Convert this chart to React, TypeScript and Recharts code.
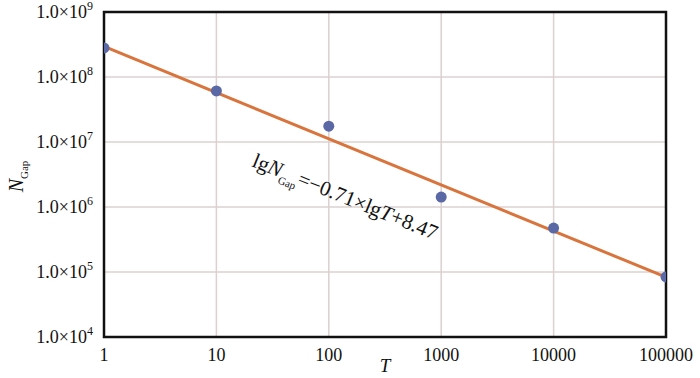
import { ScatterChart, Scatter, XAxis, YAxis, CartesianGrid, ReferenceArea } from 'recharts'

// measured points (T, N_Gap)
const tValues = [1, 10, 100, 1000, 10000, 100000]
const nGap = [2.8e8, 6.1e7, 1.75e7, 1.42e6, 4.75e5, 8.4e4]
// fitted line lgN = -0.71 lgT + 8.47, end points
const fitT = [1, 100000]
const fitN = [2.95e8, 8.32e4]

const xTicks = [1, 10, 100, 1000, 10000, 100000]
const yTicks = [1e4, 1e5, 1e6, 1e7, 1e8, 1e9]

const points = tValues.map((x, i) => ({ x, y: nGap[i] }))
const fit = fitT.map((x, i) => ({ x, y: fitN[i] }))

const serif = '"Liberation Serif", "DejaVu Serif", serif'

const YTick = ({ x, y, payload }: any) => {
  const e = Math.round(Math.log10(payload.value))
  return (
    <text x={x - 3} y={y + 6} textAnchor='end' fontFamily={serif} fontSize={18} fill='#111'>
      1.0×10<tspan dy={-8} fontSize={12}>{e}</tspan>
    </text>
  )
}

const XTick = ({ x, y, payload }: any) => (
  <text x={x} y={y + 16} textAnchor='middle' fontFamily={serif} fontSize={18} fill='#111'>
    {payload.value}
  </text>
)

const Dot = ({ cx, cy }: any) => <circle cx={cx} cy={cy} r={5.5} fill='#5a68a6' />

export default function App() {
  return (
    <div style={{ position: 'absolute', left: 0, top: 0, width: 700, height: 378, background: '#fff' }}>
      <ScatterChart width={700} height={378} margin={{ top: 12, right: 34, left: 0, bottom: 0 }}>
        <CartesianGrid stroke='#dcd0d0' strokeWidth={1.5} />
        <XAxis type='number' dataKey='x' scale='log' domain={[1, 100000]} ticks={xTicks}
          height={41} axisLine={false} tickLine={false} tick={<XTick />} interval={0}
          allowDataOverflow
          label={({ viewBox }: any) => (
            <text x={viewBox.x + viewBox.width / 2} y={372} textAnchor='middle'
              fontFamily={serif} fontStyle='italic' fontSize={19} fill='#111'>T</text>
          )} />
        <YAxis type='number' dataKey='y' scale='log' domain={[1e4, 1e9]} ticks={yTicks}
          width={104} axisLine={false} tickLine={false} tick={<YTick />} interval={0}
          allowDataOverflow
          label={({ viewBox }: any) => (
            <text x={0} y={0} transform={`translate(23 ${viewBox.y + viewBox.height / 2 + 2}) rotate(-90)`}
              textAnchor='middle' fontFamily={serif} fill='#111'>
              <tspan fontSize={20} fontStyle='italic'>N</tspan>
              <tspan fontSize={11} dy={5}>Gap</tspan>
            </text>
          )} />
        <ReferenceArea x1={1} x2={100000} y1={1e4} y2={1e9} fill='none' stroke='#111' strokeWidth={2.5}
          ifOverflow='visible' />
        <Scatter data={fit} line={{ stroke: '#d9743c', strokeWidth: 3 }} shape={() => <g />}
          isAnimationActive={false} />
        <Scatter data={points} shape={<Dot />} isAnimationActive={false} />
      </ScatterChart>
      <svg width={700} height={378} style={{ position: 'absolute', left: 0, top: 0, pointerEvents: 'none' }}>
        <text transform='translate(251 166) rotate(22)' fontFamily={serif} fontSize={21} fill='#111'>
          lg<tspan fontStyle='italic'>N</tspan>
          <tspan fontSize={11} dy={6}>Gap</tspan>
          <tspan dy={-6}>=−0.71×lg</tspan>
          <tspan fontStyle='italic'>T</tspan>+8.47
        </text>
      </svg>
    </div>
  )
}
